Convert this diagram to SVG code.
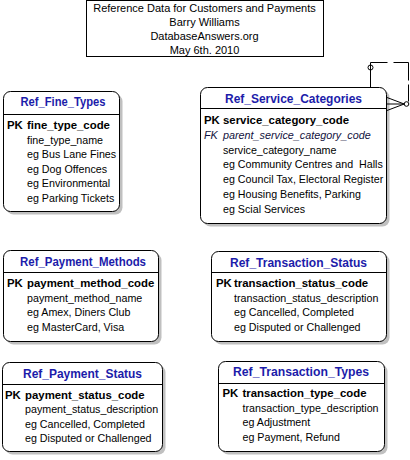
<svg xmlns="http://www.w3.org/2000/svg" width="410" height="460" viewBox="0 0 410 460">
<style>
text{font-family:"Liberation Sans",Arial,sans-serif;white-space:pre}
.box{fill:#fff;stroke:#000;stroke-width:1}
.sh{fill:#c0c0c0}
.div{stroke:#000;stroke-width:1}
.ttl{font-size:12px;font-weight:bold;fill:#1c1caa;text-anchor:middle}
.pk{font-size:11.4px;font-weight:bold;fill:#000}
.fld{font-size:10.7px;fill:#000}
.fk{font-size:10.8px;font-style:italic;fill:#121240}
.hdr{font-size:11px;fill:#000;text-anchor:middle}
.cn{stroke:#000;stroke-width:1;fill:none}
</style>
<rect x="0" y="0" width="410" height="460" fill="#fff"/>
<g id="header">
<rect class="box" x="86.5" y="0.5" width="237" height="56"/>
<text class="hdr" x="204.5" y="12">Reference Data for Customers and Payments</text>
<text class="hdr" x="204.5" y="26">Barry Williams</text>
<text class="hdr" x="204.5" y="40">DatabaseAnswers.org</text>
<text class="hdr" x="204.5" y="54">May 6th. 2010</text>
</g>
<g id="Ref_Fine_Types">
<rect class="sh" x="6.5" y="94.5" width="116" height="120" rx="7"/>
<rect class="box" x="3.5" y="91.5" width="116" height="120" rx="7"/>
<line class="div" x1="3.5" y1="114.5" x2="119.5" y2="114.5"/>
<text class="ttl" x="63" y="106" textLength="85" lengthAdjust="spacingAndGlyphs">Ref_Fine_Types</text>
<text class="pk" x="7" y="129">PK</text><text class="pk" x="27" y="129">fine_type_code</text>
<text class="fld" x="27" y="143.6">fine_type_name</text>
<text class="fld" x="27" y="158.2">eg Bus Lane Fines</text>
<text class="fld" x="27" y="172.8">eg Dog Offences</text>
<text class="fld" x="27" y="187.4">eg Environmental</text>
<text class="fld" x="27" y="202">eg Parking Tickets</text>
</g>
<g id="Ref_Service_Categories">
<rect class="sh" x="203.5" y="90.5" width="186" height="136" rx="7"/>
<rect class="box" x="200.5" y="87.5" width="186" height="136" rx="7"/>
<line class="div" x1="200.5" y1="108.5" x2="386.5" y2="108.5"/>
<text class="ttl" x="293.5" y="103" textLength="137" lengthAdjust="spacingAndGlyphs">Ref_Service_Categories</text>
<text class="pk" x="204" y="124">PK</text><text class="pk" x="223" y="124">service_category_code</text>
<text class="fk" x="204" y="138.8">FK</text><text class="fk" x="223" y="138.8">parent_service_category_code</text>
<text class="fld" x="223" y="153.6">service_category_name</text>
<text class="fld" x="223" y="168.4">eg Community Centres and  Halls</text>
<text class="fld" x="223" y="183.2">eg Council Tax, Electoral Register</text>
<text class="fld" x="223" y="198">eg Housing Benefits, Parking</text>
<text class="fld" x="223" y="212.8">eg Scial Services</text>
</g>
<g id="Ref_Payment_Methods">
<rect class="sh" x="6.5" y="253.5" width="155" height="91" rx="7"/>
<rect class="box" x="3.5" y="250.5" width="155" height="91" rx="7"/>
<line class="div" x1="3.5" y1="272.5" x2="158.5" y2="272.5"/>
<text class="ttl" x="83" y="266" textLength="126" lengthAdjust="spacingAndGlyphs">Ref_Payment_Methods</text>
<text class="pk" x="7" y="287">PK</text><text class="pk" x="27" y="287">payment_method_code</text>
<text class="fld" x="27" y="301.7">payment_method_name</text>
<text class="fld" x="27" y="316.4">eg Amex, Diners Club</text>
<text class="fld" x="27" y="331">eg MasterCard, Visa</text>
</g>
<g id="Ref_Transaction_Status">
<rect class="sh" x="214.5" y="254.5" width="175" height="90" rx="7"/>
<rect class="box" x="211.5" y="251.5" width="175" height="90" rx="7"/>
<line class="div" x1="211.5" y1="272.5" x2="386.5" y2="272.5"/>
<text class="ttl" x="298.5" y="266.5" textLength="137" lengthAdjust="spacingAndGlyphs">Ref_Transaction_Status</text>
<text class="pk" x="216" y="287">PK</text><text class="pk" x="234" y="287">transaction_status_code</text>
<text class="fld" x="234" y="301.7">transaction_status_description</text>
<text class="fld" x="234" y="316.4">eg Cancelled, Completed</text>
<text class="fld" x="234" y="331">eg Disputed or Challenged</text>
</g>
<g id="Ref_Payment_Status">
<rect class="sh" x="5.5" y="365.5" width="160" height="89" rx="7"/>
<rect class="box" x="2.5" y="362.5" width="160" height="89" rx="7"/>
<line class="div" x1="2.5" y1="384.5" x2="162.5" y2="384.5"/>
<text class="ttl" x="82.5" y="378" textLength="119" lengthAdjust="spacingAndGlyphs">Ref_Payment_Status</text>
<text class="pk" x="5" y="399">PK</text><text class="pk" x="25" y="399">payment_status_code</text>
<text class="fld" x="25" y="413.4">payment_status_description</text>
<text class="fld" x="25" y="427.8">eg Cancelled, Completed</text>
<text class="fld" x="25" y="442.2">eg Disputed or Challenged</text>
</g>
<g id="Ref_Transaction_Types">
<rect class="sh" x="221.5" y="364.5" width="166" height="90" rx="7"/>
<rect class="box" x="218.5" y="361.5" width="166" height="90" rx="7"/>
<line class="div" x1="218.5" y1="383.5" x2="384.5" y2="383.5"/>
<text class="ttl" x="301" y="375.7" textLength="136" lengthAdjust="spacingAndGlyphs">Ref_Transaction_Types</text>
<text class="pk" x="222.5" y="397.3">PK</text><text class="pk" x="242.5" y="397.3">transaction_type_code</text>
<text class="fld" x="242.5" y="411.8">transaction_type_description</text>
<text class="fld" x="242.5" y="426.2">eg Adjustment</text>
<text class="fld" x="242.5" y="440.7">eg Payment, Refund</text>
</g>
<g id="connectors">
<path class="cn" d="M370.5,87.5 V62.5 H387.5"/>
<path class="cn" d="M393.5,62.5 H408.5 V80.5"/>
<path class="cn" d="M408.5,84.5 V101.5"/>
<circle class="cn" cx="370.5" cy="67.5" r="2.5"/>
<circle class="cn" cx="406.5" cy="104" r="2.3"/>
<path class="cn" d="M387,97.5 L404.2,104 M387,104 H404.2 M387,110.5 L404.2,104"/>
</g>
</svg>
